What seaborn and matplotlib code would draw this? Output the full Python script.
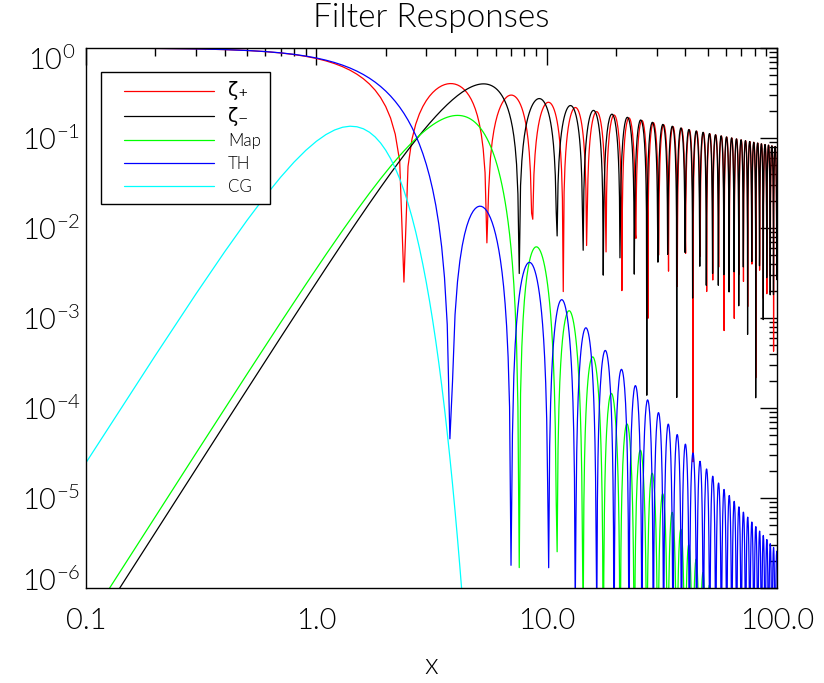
import numpy as np
import pandas as pd
import seaborn as sns
import matplotlib
matplotlib.use('Agg')
import matplotlib.pyplot as plt
from matplotlib.lines import Line2D
from matplotlib.legend_handler import HandlerLine2D
from matplotlib import transforms

# sample points of the original curves: 0.1, 0.2, ..., 100.0
x_start = 0.1
x_step = 0.1
n_points = 1000

filter_names = ['ζ₊', 'ζ₋', 'Map', 'TH', 'CG']
filter_colors = ['#ff0000', '#000000', '#00ff00', '#0000ff', '#00ffff']

x_ticks = [0.1, 1.0, 10.0, 100.0]
x_tick_labels = ['0.1', '1.0', '10.0', '100.0']
y_ticks = [1e-6, 1e-5, 1e-4, 1e-3, 1e-2, 1e-1, 1e0]


def bessel_j(n, x):
    # J_n(x) = 1/(2 pi) * integral over one period of cos(n t - x sin t)
    t = np.linspace(0, 2 * np.pi, 512, endpoint=False)
    return np.cos(n * t[None, :] - x[:, None] * np.sin(t)[None, :]).mean(axis=1)


x = x_start + x_step * np.arange(n_points)
j0 = bessel_j(0, x)
j1 = bessel_j(1, x)
j4 = bessel_j(4, x)

responses = [
    np.abs(j0),                 # xi+
    np.abs(j4),                 # xi-
    576.0 * j4**2 / x**4,       # aperture mass
    (2.0 * j1 / x)**2,          # top hat
    x**4 / 4.0 * np.exp(-x**2), # compensated gaussian
]

df = pd.concat([pd.DataFrame({'x': x, 'W': r, 'filter': k}) for k, r in zip(filter_names, responses)])
palette = dict(zip(filter_names, filter_colors))

sns.set_style('white')
plt.rcParams['font.family'] = ['Lato', 'DejaVu Sans']
plt.rcParams['font.weight'] = 300
plt.rcParams['text.color'] = 'black'
plt.rcParams['axes.labelcolor'] = 'black'
plt.rcParams['xtick.color'] = 'black'
plt.rcParams['ytick.color'] = 'black'
plt.rcParams['axes.linewidth'] = 1.0

fig, ax = plt.subplots(figsize=(8.24, 6.83), dpi=100)
fig.subplots_adjust(left=0.1044, right=0.943, bottom=0.139, top=0.9297)

sns.lineplot(data=df, x='x', y='W', hue='filter', hue_order=filter_names, palette=palette,
             estimator=None, sort=False, linewidth=0.9, legend=False, ax=ax)

ax.set_xscale('log')
ax.set_yscale('log')
ax.set_xlim(0.1, 100)
ax.set_ylim(1e-6, 1)
ax.set_xticks(x_ticks)
ax.set_xticklabels(x_tick_labels)
ax.set_yticks(y_ticks)

ax.tick_params(which='both', direction='in', top=True, right=True, color='black', width=1)
ax.tick_params(which='major', length=12)
ax.tick_params(which='minor', length=6)
ax.tick_params(axis='x', which='major', labelsize=21, pad=14, labelcolor='black')
ax.tick_params(axis='y', which='major', labelsize=21, pad=25, labelcolor='black')
for spine in ax.spines.values():
    spine.set_color('black')

for lab in ax.get_yticklabels():
    lab.set_horizontalalignment('center')
ylabs = ax.get_yticklabels()
ylabs[-1].set_transform(ylabs[-1].get_transform() + transforms.ScaledTranslation(0, -0.1, fig.dpi_scale_trans))
ylabs[0].set_transform(ylabs[0].get_transform() + transforms.ScaledTranslation(0, 0.09, fig.dpi_scale_trans))

ax.set_title('Filter Responses', fontsize=24, pad=15, fontweight=300)
ax.set_xlabel('x', fontsize=21, labelpad=14, fontweight=300)
ax.set_ylabel('')

handles = [Line2D([], [], color=c, lw=0.9) for c in filter_colors]
leg = ax.legend(handles, filter_names, loc='upper left', bbox_to_anchor=(0.0217, 0.9556),
                borderaxespad=0, fontsize=12.2, borderpad=0.56, labelspacing=0.4,
                handlelength=6.12, handletextpad=0.8, fancybox=False, framealpha=1,
                edgecolor='black', handler_map={Line2D: HandlerLine2D(xpad=0.8)})
leg.get_frame().set_linewidth(1.0)
for t in leg.get_texts()[:2]:
    t.set_fontfamily('DejaVu Sans')
    t.set_fontsize(13.5)

fig.savefig('out.png', dpi=100)
